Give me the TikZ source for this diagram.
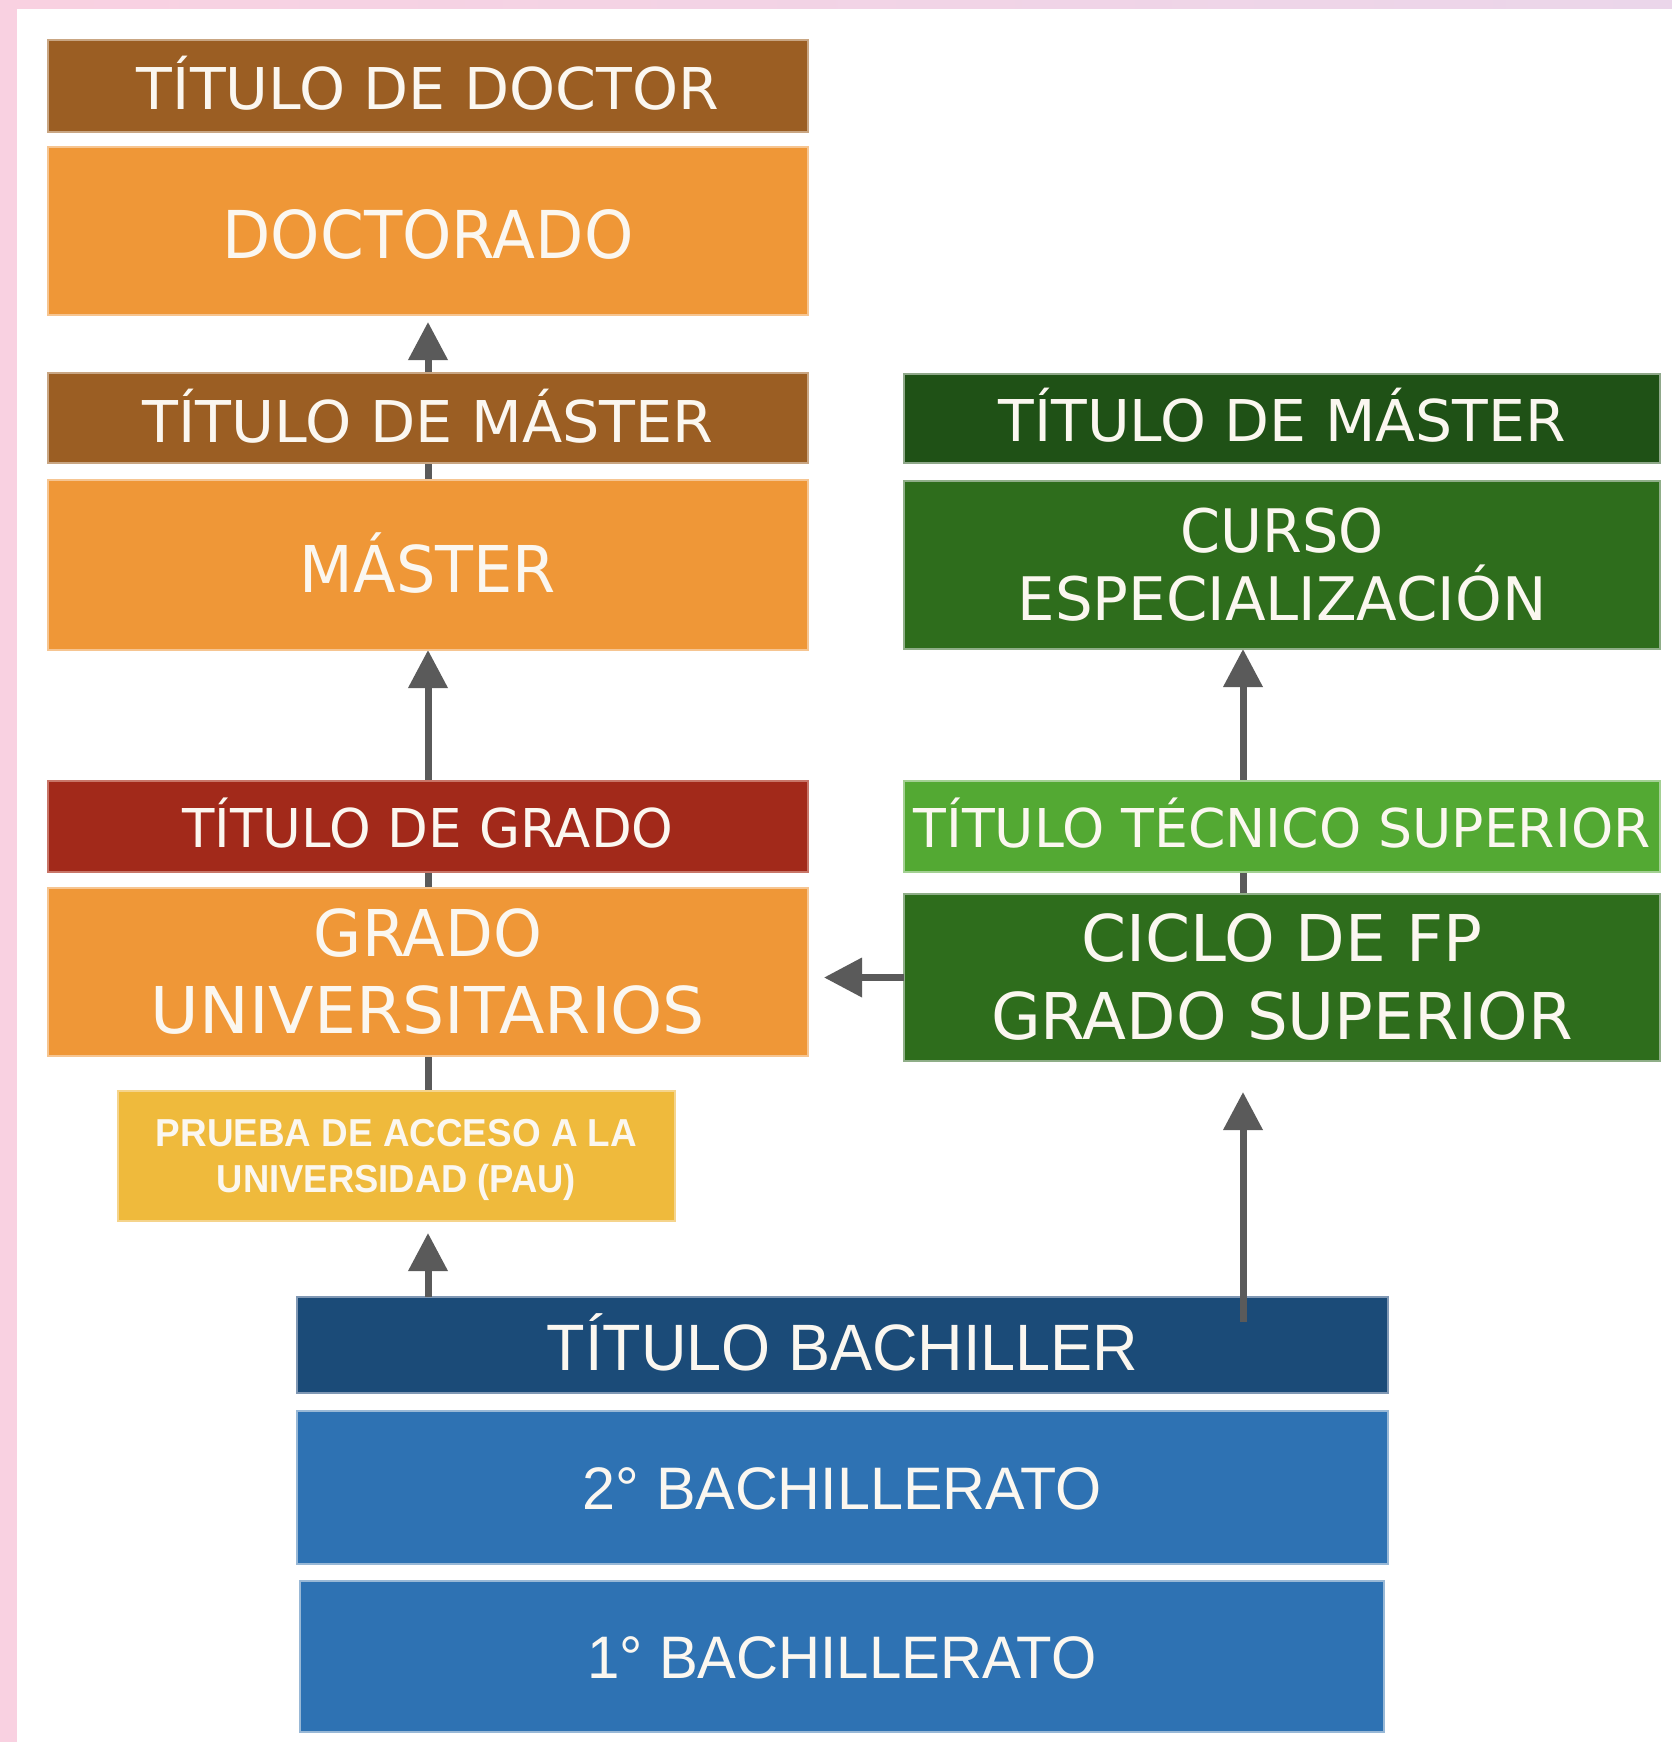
\documentclass[tikz,border=0pt]{standalone}
\usepackage{fontspec}
\usepackage{graphicx}
\usetikzlibrary{arrows.meta}
\newfontfamily\dvs{DejaVu Sans}
\newfontfamily\lbs{Liberation Sans}
\newcommand\fitw[2]{\resizebox{#1pt}{\height}{#2}}
\newcommand\fsz[2]{\fontsize{#1pt}{#2pt}\selectfont}
\definecolor{pinkL}{HTML}{F9D1E1}
\definecolor{lavR}{HTML}{EBD6EA}
\definecolor{txtc}{HTML}{FBF7F0}
\definecolor{brownT}{HTML}{9B5E23}
\definecolor{brownE}{HTML}{C9A683}
\definecolor{orangeB}{HTML}{EF9737}
\definecolor{orangeE}{HTML}{F6C591}
\definecolor{redT}{HTML}{A2291A}
\definecolor{redE}{HTML}{C87568}
\definecolor{yellowB}{HTML}{EFBA3C}
\definecolor{yellowE}{HTML}{F5D48C}
\definecolor{dgreenT}{HTML}{1F5116}
\definecolor{dgreenE}{HTML}{8FA88A}
\definecolor{greenB}{HTML}{2E6D1C}
\definecolor{greenE}{HTML}{8FAE88}
\definecolor{lgreenT}{HTML}{53A933}
\definecolor{lgreenE}{HTML}{A3D093}
\definecolor{dblueT}{HTML}{1B4B78}
\definecolor{dblueE}{HTML}{8098B4}
\definecolor{blueB}{HTML}{2E72B3}
\definecolor{blueE}{HTML}{98B8D6}
\definecolor{arrowG}{HTML}{5A5A5A}
\pgfdeclarelayer{bg}
\pgfsetlayers{bg,main}
\tikzset{
  box/.style={rectangle, inner sep=0pt, outer sep=0pt, line width=2pt, text=txtc, align=center},
  capt/.style={text height=#1pt, text depth=0pt},
  arr/.style={draw=arrowG, line width=7pt, -{Triangle[width=38pt,length=38pt]}},
  arrl/.style={draw=arrowG, line width=7pt},
}
\begin{document}
\begin{tikzpicture}[x=1pt,y=-1pt]
\useasboundingbox (0,0) rectangle (1672,1742);

% left column
\node[box, fill=brownT, draw=brownE, minimum width=760pt, minimum height=92pt, capt=48, font=\dvs\fsz{57.6}{70}] (tDoc) at (428,86) {\fitw{582}{TÍTULO DE DOCTOR}};
\node[box, fill=orangeB, draw=orangeE, minimum width=760pt, minimum height=168pt, capt=54, font=\dvs\fsz{66}{80}] (doc) at (428,231) {\fitw{411}{DOCTORADO}};
\node[box, fill=brownT, draw=brownE, minimum width=760pt, minimum height=90pt, capt=48, font=\dvs\fsz{57.6}{70}] (tMasL) at (428,418) {\fitw{571}{TÍTULO DE MÁSTER}};
\node[box, fill=orangeB, draw=orangeE, minimum width=760pt, minimum height=170pt, capt=54, font=\dvs\fsz{64.5}{78}] (masL) at (428,565) {\fitw{256}{MÁSTER}};
\node[box, fill=redT, draw=redE, minimum width=760pt, minimum height=91pt, capt=41, font=\dvs\fsz{53.5}{65}] (tGrado) at (428,826.5) {\fitw{491}{TÍTULO DE GRADO}};
\node[box, fill=orangeB, draw=orangeE, minimum width=760pt, minimum height=168pt, font=\dvs\fsz{64.5}{77}] (grado) at (428,972) {\fitw{228}{GRADO}\\\fitw{554}{UNIVERSITARIOS}};
\node[box, fill=yellowB, draw=yellowE, minimum width=557pt, minimum height=130pt, font=\lbs\bfseries\fsz{39}{46}] (pau) at (396.5,1156) {\rule{0pt}{36pt}\fitw{481}{PRUEBA DE ACCESO A LA}\\\fitw{359}{UNIVERSIDAD (PAU)}};

% right column
\node[box, fill=dgreenT, draw=dgreenE, minimum width=756pt, minimum height=89pt, capt=45, font=\dvs\fsz{57.6}{70}] (tMasR) at (1282,418.5) {\fitw{567}{TÍTULO DE MÁSTER}};
\node[box, fill=greenB, draw=greenE, minimum width=756pt, minimum height=168pt, font=\dvs\fsz{60}{68}] (curso) at (1282,565) {\fitw{203}{CURSO}\\\fitw{529}{ESPECIALIZACIÓN}};
\node[box, fill=lgreenT, draw=lgreenE, minimum width=756pt, minimum height=91pt, capt=41, font=\dvs\fsz{53.5}{65}] (tTec) at (1282,826.5) {\fitw{737}{TÍTULO TÉCNICO SUPERIOR}};
\node[box, fill=greenB, draw=greenE, minimum width=756pt, minimum height=167pt, font=\dvs\fsz{64.5}{78}] (ciclo) at (1282,977.5) {\fitw{401}{CICLO DE FP}\\\fitw{582}{GRADO SUPERIOR}};

% bottom
\node[box, fill=dblueT, draw=dblueE, minimum width=1091pt, minimum height=96pt, capt=50, font=\lbs\fsz{65.6}{78}] (tBach) at (842.5,1345) {\fitw{592}{TÍTULO BACHILLER}};
\node[box, fill=blueB, draw=blueE, minimum width=1091pt, minimum height=153pt, capt=43, font=\lbs\fsz{60}{72}] (b2) at (842.5,1487.5) {\fitw{519}{2° BACHILLERATO}};
\node[box, fill=blueB, draw=blueE, minimum width=1084pt, minimum height=151pt, capt=43, font=\lbs\fsz{60}{72}] (b1) at (842,1656.5) {\fitw{509}{1° BACHILLERATO}};

% background and hidden connectors
\begin{pgfonlayer}{bg}
  \fill[pinkL] (0,0) rectangle (1672,1742);
  \shade[left color=pinkL, right color=lavR] (0,0) rectangle (1672,9);
  \fill[white] (17,9) rectangle (1672,1742);
  \draw[arr, shorten >=7pt] (masL.north) -- (doc.south);
  \draw[arr] (grado.north) -- (masL.south);
  \draw[arrl] (grado.south) -- (grado.south |- pau.north);
  \draw[arr] ([xshift=-39pt]ciclo.north) -- ([xshift=-39pt]curso.south);
\end{pgfonlayer}

% visible connectors
\draw[arr, shorten >=12pt] (grado.south |- tBach.north) -- (grado.south |- pau.south);
\coordinate (fpFoot) at (1243,1322);
\draw[arr, shorten >=31pt] (fpFoot) -- (fpFoot |- ciclo.south);
\draw[arr, shorten >=16pt] (ciclo.west) -- (grado.east |- ciclo.west);
\end{tikzpicture}
\end{document}
